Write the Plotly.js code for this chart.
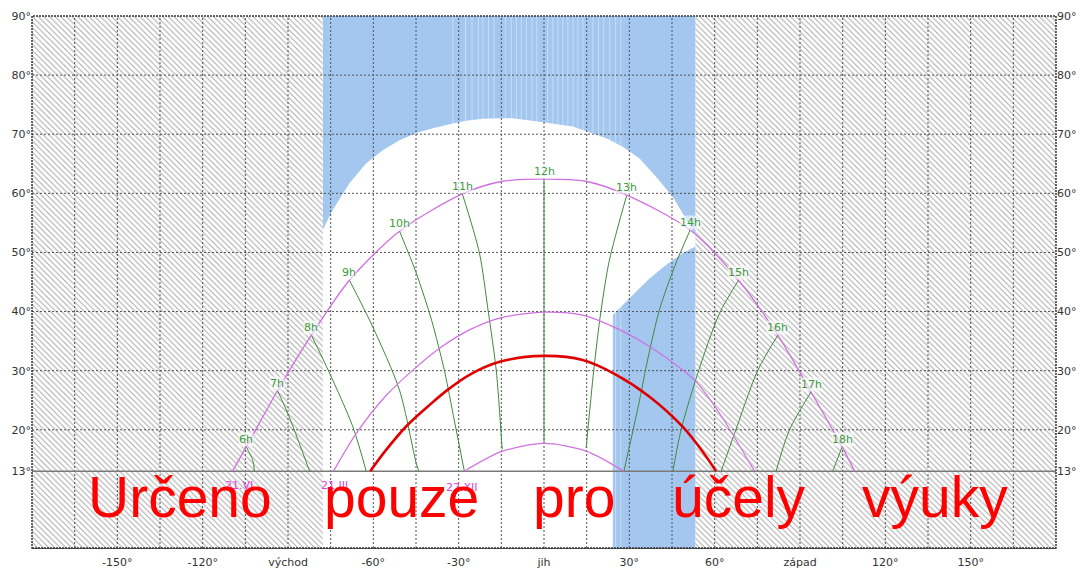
<!DOCTYPE html>
<html><head><meta charset="utf-8">
<script src="https://cdn.plot.ly/plotly-3.0.1.min.js"></script>
<style>html,body{margin:0;padding:0;background:#fff;}#chart{width:1083px;height:570px;}</style>
</head><body><div id="chart"></div>
<script>
// ---------- axes / ticks ----------
const xTickVals = [-150, -120, -90, -60, -30, 0, 30, 60, 90, 120, 150];
const xTickText = ['-150°', '-120°', 'východ', '-60°', '-30°', 'jih', '30°', '60°', 'západ', '120°', '150°'];
const yTickVals = [13, 20, 30, 40, 50, 60, 70, 80, 90];
const yTickText = ['13°', '20°', '30°', '40°', '50°', '60°', '70°', '80°', '90°'];
const xGrid = [-165, -150, -135, -120, -105, -90, -75, -60, -45, -30, -15, 0, 15, 30, 45, 60, 75, 90, 105, 120, 135, 150, 165];
const yGrid = [20, 30, 40, 50, 60, 70, 80];
const horizonAlt = 13;

// ---------- obstacles (horizon profile) ----------
const hatchLeftAz = [-180, -77.8, -77.8, -180];
const hatchLeftAlt = [0, 0, 90, 90];
const hatchRightAz = [53.3, 180, 180, 53.3];
const hatchRightAlt = [0, 0, 90, 90];
const obstacleAz = [-77.8, 53.3, 53.3, -77.8];
const obstacleAlt = [0, 0, 90, 90];
// open sky (white) region cut out of the blue obstacle
const skyAz = [-77.8, -74.3, -68.4, -62.5, -56.7, -50.8, -44.9, -39.1, -33.2, -27.4, -21.5, -15.6, -11.1, -1.6, 10.1, 21.9, 27.7, 33.6, 39.4, 45.3, 48.8, 52.3, 53.3,
               53.3, 48.8, 43.0, 37.1, 31.2, 27.1, 24.2, 24.2, -77.8];
const skyAlt = [53.8, 57.2, 61.7, 65.1, 67.3, 69.0, 70.2, 71.0, 71.7, 72.3, 72.6, 72.7, 72.7, 72.1, 71.3, 69.3, 67.9, 65.9, 62.8, 59.4, 56.6, 53.6, 53.0,
                51.0, 49.9, 47.9, 45.6, 42.8, 40.8, 39.4, 0, 0];
const seamAz = [-32.0, -27.6, -25.3, -23.1, -21.5, -19.5, -17.6, -13.5, -11.5, -9.7, -8.0, -6.2, -4.2, -2.5, 1.3, 3.1, 4.9, 6.6, 8.4, 10.2, 11.9, 13.7, 17.2, 19.2, 21.0, 23.1, 25.2, 27.0];

// ---------- sun paths ----------
const summerAz = [-109.5, -104.7, -93.7, -81.8, -68.4, -50.8, -28.7, -15, 0, 15, 29.1, 51.4, 68.4, 82.2, 93.9, 104.8, 109.2];
const summerAlt = [13, 17.1, 26.6, 36.0, 45.3, 53.6, 59.9, 62.0, 62.4, 62.0, 59.7, 53.8, 45.3, 36.0, 26.4, 17.1, 13];
const equinoxAz = [-74, -66, -55.5, -46.1, -36.7, -26.2, -15.6, 0, 13.6, 25.4, 37.1, 48.8, 53.5, 61.7, 74];
const equinoxAlt = [13, 19.4, 25.8, 30.1, 33.8, 36.9, 38.9, 39.9, 39.4, 37.2, 34.1, 30.1, 28.1, 22.8, 13];
const winterAz = [-28, -15, 0, 14.8, 28.1];
const winterAlt = [13, 16.3, 17.7, 16.4, 13];
const dayAz = [-61.1, -55.5, -48.4, -40, -33.2, -26.2, -15.6, 0, 13.6, 25.4, 37.1, 48.8, 55.8, 60.5];
const dayAlt = [13, 16.6, 20.6, 24.3, 27.0, 29.3, 31.5, 32.5, 31.8, 29.3, 25.6, 20.5, 16.3, 13];

// ---------- hour lines ----------
const hourLabels = ['6h', '7h', '8h', '9h', '10h', '11h', '12h', '13h', '14h', '15h', '16h', '17h', '18h'];
const hourLinesAz = [
  [-104.7, -102.4, -101.8],
  [-93.7, -90.1, -82.4],
  [-81.8, -75.4, -67.2, -62.5],
  [-68.4, -60.2, -50.8, -44.9, -44.0],
  [-50.8, -44.9, -39.5, -35.0, -31.5, -28.0],
  [-28.7, -22.7, -19.6, -16.8, -14.7],
  [0, 0],
  [29.1, 23.0, 20.0, 17.5, 14.8],
  [51.4, 45.9, 40.6, 36.5, 33.6, 28.1],
  [68.4, 61.7, 54.1, 48.2, 45.3],
  [82.2, 75.2, 67.0, 62.3],
  [93.9, 86.3, 81.6],
  [104.8, 101.5]
];
const hourLinesAlt = [
  [17.1, 14.9, 13],
  [26.6, 22.8, 13],
  [36.0, 29.6, 20.5, 13],
  [45.3, 37.4, 26.7, 14.3, 13],
  [53.6, 46.5, 38.5, 30.0, 21.5, 13],
  [59.9, 49.9, 40.0, 30.1, 16.7],
  [62.4, 17.7],
  [59.7, 48.7, 40.0, 30.1, 16.9],
  [53.8, 47.6, 40.3, 32.0, 25.0, 13],
  [45.3, 39.7, 29.6, 20.0, 13],
  [36.0, 30.1, 19.4, 13],
  [26.4, 20.0, 13],
  [17.1, 13]
];

const dateLabels = ['21.VI', '21.III', '22.XII'];
const dateLabelAz = [-107.4, -73.7, -29];
const dateLabelAlt = [10.5, 10.5, 10.2];

const watermarkWords = ['Určeno', 'pouze', 'pro', 'účely', 'výuky'];
const watermarkAz = [-127.8, -50.1, 10.7, 68.7, 137.6];
const watermarkAlt = 8.6;

// ---------- build traces ----------
const traces = [];
traces.push({type: 'scatter', x: obstacleAz, y: obstacleAlt, fill: 'toself', fillcolor: '#a3c7ee', mode: 'none', hoverinfo: 'skip'});
const sx = [], sy = [];
seamAz.forEach(a => { sx.push(a, a, null); sy.push(0, 90, null); });
traces.push({type: 'scatter', x: sx, y: sy, mode: 'lines', line: {color: 'rgba(255,255,255,0.4)', width: 1}, hoverinfo: 'skip'});
traces.push({type: 'scatter', x: skyAz, y: skyAlt, fill: 'toself', fillcolor: '#ffffff', mode: 'none', hoverinfo: 'skip'});
const hatch = {shape: '\\', fgcolor: '#a8a8a8', bgcolor: '#ffffff', size: 4, solidity: 0.25};
traces.push({type: 'scatter', x: hatchLeftAz, y: hatchLeftAlt, fill: 'toself', fillpattern: hatch, fillcolor: '#ffffff', mode: 'none', hoverinfo: 'skip'});
traces.push({type: 'scatter', x: hatchRightAz, y: hatchRightAlt, fill: 'toself', fillpattern: hatch, fillcolor: '#ffffff', mode: 'none', hoverinfo: 'skip'});

// grid
const gx = [], gy = [];
xGrid.forEach(v => { gx.push(v, v, null); gy.push(0, 90, null); });
yGrid.forEach(v => { gx.push(-180, 180, null); gy.push(v, v, null); });
traces.push({type: 'scatter', x: gx, y: gy, mode: 'lines', line: {color: '#505050', width: 1, dash: '2px,2px'}, hoverinfo: 'skip'});
traces.push({type: 'scatter', x: [-180, 180], y: [horizonAlt, horizonAlt], mode: 'lines', line: {color: '#7a7a7a', width: 1.5}, hoverinfo: 'skip'});

// hour lines
hourLinesAz.forEach((az, i) => {
  traces.push({type: 'scatter', x: az, y: hourLinesAlt[i], mode: 'lines', line: {color: '#3f8a3f', width: 1, shape: 'spline', smoothing: 0.8}, hoverinfo: 'skip'});
});
// sun paths
const pathColor = '#d070e0';
traces.push({type: 'scatter', x: summerAz, y: summerAlt, mode: 'lines', line: {color: pathColor, width: 1.3, shape: 'spline', smoothing: 0.8}, hoverinfo: 'skip'});
traces.push({type: 'scatter', x: equinoxAz, y: equinoxAlt, mode: 'lines', line: {color: pathColor, width: 1.2, shape: 'spline', smoothing: 0.8}, hoverinfo: 'skip'});
traces.push({type: 'scatter', x: winterAz, y: winterAlt, mode: 'lines', line: {color: pathColor, width: 1.2, shape: 'spline', smoothing: 0.8}, hoverinfo: 'skip'});
traces.push({type: 'scatter', x: dayAz, y: dayAlt, mode: 'lines', line: {color: '#e00000', width: 2.6, shape: 'spline', smoothing: 1}, hoverinfo: 'skip'});
// dummy for right axis
traces.push({type: 'scatter', x: [0], y: [0], yaxis: 'y2', mode: 'none', hoverinfo: 'skip'});

// ---------- annotations ----------
const annotations = [];
hourLabels.forEach((t, i) => {
  annotations.push({x: hourLinesAz[i][0], y: hourLinesAlt[i][0], text: t, showarrow: false, xanchor: 'center', yanchor: 'bottom', yshift: 0,
    font: {family: 'DejaVu Sans', size: 11, color: '#3c9a3c'}, bgcolor: 'rgba(255,255,255,0.6)', borderpad: 0});
});
dateLabels.forEach((t, i) => {
  annotations.push({x: dateLabelAz[i], y: dateLabelAlt[i], text: t, showarrow: false, xanchor: 'center', yanchor: 'middle',
    font: {family: 'DejaVu Sans', size: 11, color: '#e040e0'}});
});
watermarkWords.forEach((t, i) => {
  annotations.push({x: watermarkAz[i], y: watermarkAlt, text: t, showarrow: false, xanchor: 'center', yanchor: 'middle',
    font: {family: 'Liberation Sans, Arial', size: 57, color: '#ff0000'}});
});

const tickFont = {family: 'DejaVu Sans', size: 11, color: '#333333'};
const layout = {
  width: 1083, height: 570,
  margin: {l: 32, r: 27, t: 16, b: 22, pad: 0},
  paper_bgcolor: '#ffffff', plot_bgcolor: '#ffffff',
  showlegend: false,
  xaxis: {range: [-180, 180], tickmode: 'array', tickvals: xTickVals, ticktext: xTickText, showgrid: false, zeroline: false,
          showline: true, linecolor: '#555555', linewidth: 1, ticks: 'outside', ticklen: 4, tickcolor: 'rgba(0,0,0,0)', tickfont: tickFont, fixedrange: true},
  yaxis: {range: [0, 90], tickmode: 'array', tickvals: yTickVals, ticktext: yTickText, showgrid: false, zeroline: false,
          ticks: '', tickfont: tickFont, fixedrange: true},
  yaxis2: {range: [0, 90], overlaying: 'y', side: 'right', tickmode: 'array', tickvals: yTickVals, ticktext: yTickText, showgrid: false, zeroline: false,
          ticks: '', tickfont: tickFont, fixedrange: true},
  shapes: [{type: 'rect', xref: 'paper', yref: 'paper', x0: 0, x1: 1, y0: 0, y1: 1, line: {color: '#333333', width: 1.5, dash: '2px,1px'}, layer: 'above'}],
  annotations: annotations
};
Plotly.newPlot('chart', traces, layout, {staticPlot: true, displayModeBar: false});
</script>
</body></html>
